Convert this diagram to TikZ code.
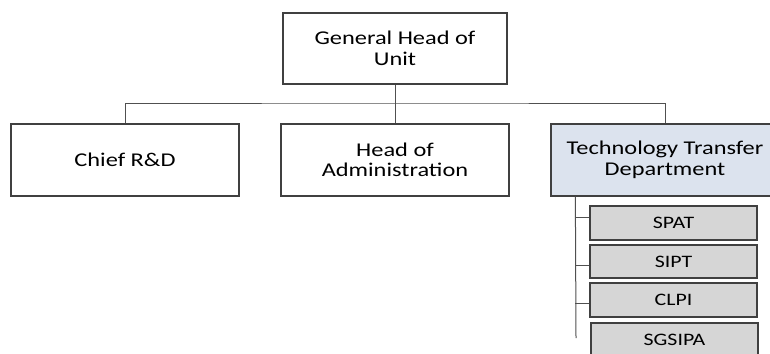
\documentclass[tikz,border=0pt]{standalone}
\usepackage{fontspec}
\setmainfont{Carlito}[FakeStretch=1.25]
\definecolor{boxline}{HTML}{404040}
\definecolor{conline}{HTML}{505050}
\definecolor{ttdfill}{HTML}{DCE3EE}
\definecolor{subfill}{HTML}{D6D6D6}
\begin{document}
\begin{tikzpicture}[x=1pt,y=-1pt,
  unitbox/.style={draw=boxline,line width=1.3pt,fill=white,minimum width=228pt,minimum height=72pt,inner sep=0pt,align=center,font=\fontsize{19.5}{20.5}\selectfont},
  subbox/.style={draw=boxline,line width=1.3pt,fill=subfill,minimum width=167pt,minimum height=34pt,inner sep=0pt,align=center,font=\fontsize{17.5}{19}\selectfont},
  conn/.style={draw=conline,line width=1pt}]
\useasboundingbox (0,0) rectangle (770,353);
\clip (0,0) rectangle (770,353);
\fill[white] (0,0) rectangle (770,353);
\node[unitbox,minimum width=224pt,minimum height=71pt] (top) at (395,48.5) {General Head of\\Unit};
\node[unitbox] (chief) at (125,160) {Chief R\&D};
\node[unitbox] (admin) at (395,160) {Head of\\Administration};
\node[unitbox,fill=ttdfill] (ttd) at (665,160) {Technology Transfer\\Department};
\node[subbox] (spat) at (673.5,223) {SPAT};
\node[subbox,minimum height=33pt] (sipt) at (673.5,261.5) {SIPT};
\node[subbox] (clpi) at (673.5,300) {CLPI};
\node[subbox] (sgsipa) at (674.5,340) {SGSIPA};
\coordinate (bus) at (395,103);
\coordinate (t0) at ([xshift=25pt]ttd.south west);
\coordinate (t1) at (576,338);
\coordinate (bspat) at ([yshift=6pt]spat.west);
\coordinate (bsipt) at ([yshift=-3.5pt]sipt.west);
\coordinate (bclpi) at ([yshift=-3pt]clpi.west);
\draw[conn] (top.south) -- (bus);
\draw[conn] (chief.north) |- (bus) -| (ttd.north);
\draw[conn] (admin.north) -- (bus);
\draw[conn] (t0) -- (t1);
\draw[conn] (t0 |- bspat) -- (bspat);
\draw[conn] (t0 |- bsipt) -- (bsipt);
\draw[conn] (t0 |- bclpi) -- (bclpi);
\end{tikzpicture}
\end{document}
